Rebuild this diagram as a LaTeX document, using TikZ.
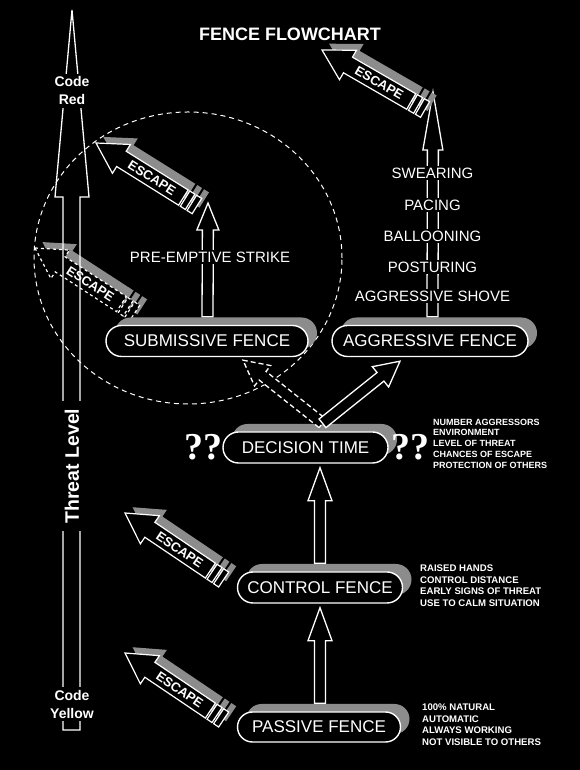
\documentclass[tikz,border=0pt]{standalone}
\usepackage{fontspec}
\setmainfont{Liberation Sans}
\newfontfamily\qfont{Liberation Serif}
\usetikzlibrary{shapes.misc,shadows,calc}
\definecolor{shadowgray}{gray}{0.55}
\newcommand{\titlefont}{\bfseries\fontsize{18}{20}\selectfont}
\newcommand{\fencefont}{\fontsize{17}{20}\selectfont}
\newcommand{\cuefont}{\fontsize{15}{17}\selectfont}
\newcommand{\codefont}{\bfseries\fontsize{14}{18}\selectfont}
\newcommand{\levelfont}{\bfseries\fontsize{19.5}{22}\selectfont}
\newcommand{\escfont}{\bfseries\fontsize{13}{15}\selectfont}
\newcommand{\askfont}{\qfont\bfseries\fontsize{38}{40}\selectfont}
\newcommand{\notefont}{\bfseries\fontsize{9}{10.75}\selectfont}
\newcommand{\bignotefont}{\bfseries\fontsize{9.6}{11.6}\selectfont}
\tikzset{
  fence/.style={rounded rectangle, draw=white, line width=1.4pt, fill=black, text=white,
    font=\fencefont, minimum height=31pt, inner sep=0pt,
    drop shadow={shadow xshift=9pt, shadow yshift=8pt, fill=shadowgray, opacity=1}},
  cue/.style={fill=black, text=white, inner sep=2pt, font=\cuefont},
  code/.style={fill=black, text=white, align=center, inner sep=3pt, font=\codefont},
  notes/.style={text=white, align=left, anchor=west, inner sep=0pt},
  arshaft/.store in=\arshaft, arhead/.store in=\arhead, arlen/.store in=\arlen,
  arshaft=5.5pt, arhead=12pt, arlen=33pt,
  blockarrow/.style={draw=white, fill=black, line width=1.3pt, line join=miter,
    to path={
      ($(\tikztotarget)!\arlen!(\tikztostart)$) coordinate (hb)
      ($(\tikztostart)!\arshaft!90:(\tikztotarget)$)
      -- ($(hb)!\arshaft!90:(\tikztotarget)$) -- ($(hb)!\arhead!90:(\tikztotarget)$)
      -- (\tikztotarget)
      -- ($(hb)!\arhead!-90:(\tikztotarget)$) -- ($(hb)!\arshaft!-90:(\tikztotarget)$)
      -- ($(\tikztostart)!\arshaft!-90:(\tikztotarget)$) -- cycle}},
  escline/.style={draw=white, fill=black, line width=1.2pt, line join=miter},
  escape/.pic={
    \fill[shadowgray, shift={(3,9)}] (0,0) -- (30,17) -- (30,9) -- (119,9) -- (119,-9) -- (30,-9) -- (30,-17) -- cycle;
    \fill[black, shift={(3,9)}] (103,-10) rectangle (105,10) (111,-10) rectangle (113,10);
    \filldraw[escline] (0,0) -- (30,17) -- (30,9) -- (103,9) -- (103,-9) -- (30,-9) -- (30,-17) -- cycle;
    \filldraw[escline] (105,-9) rectangle (111,9);
    \filldraw[escline] (113,-9) rectangle (119,9);
    \node[transform shape, text=white, font=\escfont, inner sep=0pt] (word) at (66,0) {ESCAPE};
  }
}
\begin{document}
\begin{tikzpicture}[x=1pt,y=1pt]
\fill[black] (0,0) rectangle (580,770);
% zone of the submissive branch
\draw[white, line width=1pt, dash pattern=on 5pt off 4pt] (188,512) ellipse [x radius=154pt, y radius=146pt];
\pic[rotate=-33, escline/.append style={dashed}] (escsoft) at (35,522) {escape};
% threat level scale
\draw[white, line width=1.3pt] (63,40) -- (63,573) -- (55,573) -- (72,760) -- (89,573) -- (80,573) -- (80,40) -- cycle;
\node[code] (red) at (72,679) {Code\\Red};
\node[code] (yellow) at (72,66) {Code\\Yellow};
\node[code, rotate=90, font=\levelfont, inner xsep=8pt] (level) at (72,304) {Threat Level};
\node[text=white, font=\titlefont] (title) at (290,736) {FENCE FLOWCHART};
\node[fence, minimum width=202pt] (sub) at (207,429) {SUBMISSIVE FENCE};
\node[fence, minimum width=196pt] (agg) at (430,429) {AGGRESSIVE FENCE};
\node[fence, minimum width=165pt] (dec) at (305.5,322.5) {DECISION TIME};
\node[fence, minimum width=165pt] (ctl) at (320,182.5) {CONTROL FENCE};
\node[fence, minimum width=163pt, minimum height=30pt] (pas) at (319,43) {PASSIVE FENCE};
\node[text=white, font=\askfont] (askl) at (203,323) {??};
\node[text=white, font=\askfont] (askr) at (410,323) {??};
\node[notes, font=\notefont] (decnotes) at (433,326.5) {NUMBER AGGRESSORS\\ENVIRONMENT\\LEVEL OF THREAT\\CHANCES OF ESCAPE\\PROTECTION OF OTHERS};
\node[notes, font=\bignotefont] (ctlnotes) at (420,184.5) {RAISED HANDS\\CONTROL DISTANCE\\EARLY SIGNS OF THREAT\\USE TO CALM SITUATION};
\node[notes, font=\bignotefont] (pasnotes) at (422,45.5) {100\% NATURAL\\AUTOMATIC\\ALWAYS WORKING\\NOT VISIBLE TO OTHERS};
% ends of the connectors
\coordinate (pb) at ([xshift=1pt,yshift=8pt]pas.north);
\coordinate (ct) at ([yshift=-4pt]ctl.south);
\coordinate (cb) at ([yshift=8pt]ctl.north);
\coordinate (dt) at ([xshift=14.5pt,yshift=-4pt]dec.south);
\coordinate (db) at ([shift={(17pt,8pt)}]dec.north);
\coordinate (st) at ([shift={(36pt,-3pt)}]sub.south);
\coordinate (at) at ([shift={(-30pt,-4pt)}]agg.south);
\coordinate (sb) at ([xshift=0.5pt,yshift=8pt]sub.north);
\coordinate (subtip) at (208,567);
\coordinate (ab) at ([xshift=2.5pt,yshift=8pt]agg.north);
\coordinate (aggtip) at (433,678);
\draw[blockarrow] (pb) to (ct);
\draw[blockarrow] (cb) to (dt);
\draw[blockarrow, dash pattern=on 5pt off 3pt, arlen=25pt, arhead=13pt] (db) to (st);
\draw[blockarrow, arlen=25pt, arhead=13pt] (db) to (at);
\draw[blockarrow, arlen=27pt, arhead=11pt] (sb) to (subtip);
\draw[blockarrow, arlen=58pt, arhead=10pt] (ab) to (aggtip);
\node[cue] (strike) at (210,513) {PRE-EMPTIVE STRIKE};
\node[cue] (swear) at (432.5,597) {SWEARING};
\node[cue] (pace) at (432.5,565) {PACING};
\node[cue] (balloon) at (432.5,534) {BALLOONING};
\node[cue] (posture) at (432.5,503) {POSTURING};
\node[cue] (shove) at (432.5,474) {AGGRESSIVE SHOVE};
\pic[rotate=-30] (escagg) at (322,720) {escape};
\pic[rotate=-32] (escsub) at (96,627) {escape};
\pic[rotate=-34] (escctl) at (125,257) {escape};
\pic[rotate=-34] (escpas) at (125,117) {escape};
\end{tikzpicture}
\end{document}
